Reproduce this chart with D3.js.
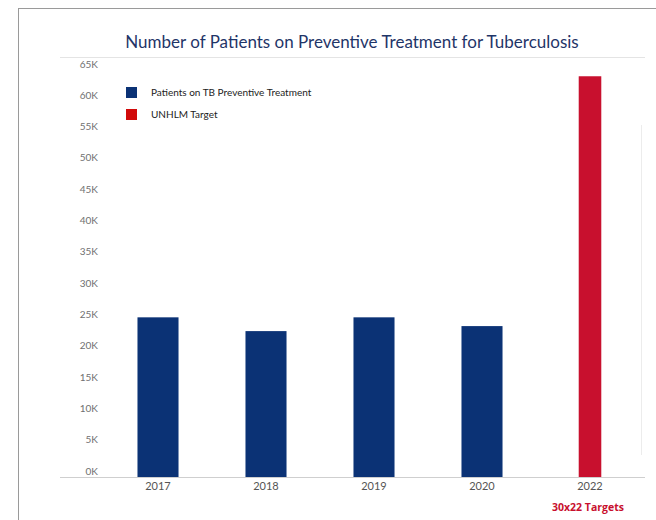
<!DOCTYPE html>
<html>
<head>
<meta charset="utf-8">
<script src="https://cdn.jsdelivr.net/npm/d3@7"></script>
<style>
  html, body { margin: 0; padding: 0; background: #fff; }
  svg { display: block; }
</style>
</head>
<body>
<svg id="chart" width="656" height="520"></svg>
<script>
// Patients on TB preventive treatment by year, plus the UNHLM 2022 target
const years = ["2017", "2018", "2019", "2020", "2022"];
const patients = [25500, 23300, 25500, 24100, null];
const target = [null, null, null, null, 64000];
const yTicks = [0, 5000, 10000, 15000, 20000, 25000, 30000, 35000, 40000, 45000, 50000, 55000, 60000, 65000];
const legendLabels = ["Patients on TB Preventive Treatment", "UNHLM Target"];
const titleText = "Number of Patients on Preventive Treatment for Tuberculosis";
const footnote = "30x22 Targets";

const navy = "#0b3275";
const crimson = "#c8102e";
const legendRed = "#d10a0a";

const svg = d3.select("#chart");

// frame
svg.append("line").attr("x1", 18).attr("x2", 656).attr("y1", 8.5).attr("y2", 8.5)
  .attr("stroke", "#9a9a9a").attr("stroke-width", 1);
svg.append("line").attr("x1", 18.5).attr("x2", 18.5).attr("y1", 8).attr("y2", 520)
  .attr("stroke", "#9a9a9a").attr("stroke-width", 1);

// title
svg.append("text")
  .attr("x", 352).attr("y", 48)
  .attr("text-anchor", "middle")
  .attr("font-family", "Lato, 'Open Sans', sans-serif")
  .attr("font-size", 17)
  .attr("fill", "#1f3568")
  .text(titleText);

svg.append("line").attr("x1", 60).attr("x2", 645).attr("y1", 57.5).attr("y2", 57.5)
  .attr("stroke", "#e4e4e4").attr("stroke-width", 1);

const x = d3.scaleBand().domain(years).range([104, 644]).paddingInner(0.62).paddingOuter(0.31);
const y = d3.scaleLinear().domain([0, 65000]).range([477, 70]);

// y axis labels (sit just above their tick)
const yAxis = d3.axisLeft(y).tickValues(yTicks)
  .tickFormat(d => (d / 1000) + "K").tickSize(0).tickPadding(0);
const gy = svg.append("g").attr("transform", "translate(98,0)").call(yAxis);
gy.select(".domain").remove();
gy.selectAll("text")
  .attr("dy", "-0.3em")
  .attr("font-family", "Lato, 'Open Sans', sans-serif")
  .attr("font-size", 10)
  .attr("fill", "#707070");

// baseline
svg.append("line").attr("x1", 60).attr("x2", 645).attr("y1", 477.5).attr("y2", 477.5)
  .attr("stroke", "#cfcfcf").attr("stroke-width", 1);

// faint right edge of plot area
svg.append("line").attr("x1", 641.5).attr("x2", 641.5).attr("y1", 125).attr("y2", 455)
  .attr("stroke", "#ececec").attr("stroke-width", 1);

// patient bars
svg.append("g").selectAll("rect")
  .data(years.map((yr, i) => ({ yr, v: patients[i] })).filter(d => d.v != null))
  .join("rect")
  .attr("x", d => x(d.yr))
  .attr("width", x.bandwidth())
  .attr("y", d => y(d.v))
  .attr("height", d => y(0) - y(d.v))
  .attr("fill", navy);

// target bar (narrower)
const tw = x.bandwidth() * 0.55;
svg.append("g").selectAll("rect")
  .data(years.map((yr, i) => ({ yr, v: target[i] })).filter(d => d.v != null))
  .join("rect")
  .attr("x", d => x(d.yr) + (x.bandwidth() - tw) / 2)
  .attr("width", tw)
  .attr("y", d => y(d.v))
  .attr("height", d => y(0) - y(d.v))
  .attr("fill", crimson);

// x axis labels
const xAxis = d3.axisBottom(x).tickSize(0).tickPadding(5);
const gx = svg.append("g").attr("transform", "translate(0,477)").call(xAxis);
gx.select(".domain").remove();
gx.selectAll("text")
  .attr("font-family", "Lato, 'Open Sans', sans-serif")
  .attr("font-size", 11)
  .attr("fill", "#555");

svg.append("text")
  .attr("x", x("2022") + x.bandwidth() / 2 - 2).attr("y", 511)
  .attr("text-anchor", "middle")
  .attr("font-family", "'Open Sans', Lato, sans-serif")
  .attr("font-weight", "bold")
  .attr("font-size", 10.5)
  .attr("fill", "#c8102e")
  .text(footnote);

// legend
const legendColors = [navy, legendRed];
const lg = svg.append("g").selectAll("g").data(legendLabels).join("g")
  .attr("transform", (d, i) => `translate(126,${87 + i * 22})`);
lg.append("rect").attr("width", 11).attr("height", 11).attr("fill", (d, i) => legendColors[i]);
lg.append("text").attr("x", 25).attr("y", 9)
  .attr("font-family", "Lato, 'Open Sans', sans-serif")
  .attr("font-size", 10)
  .attr("fill", "#222")
  .text(d => d);
</script>
</body>
</html>
